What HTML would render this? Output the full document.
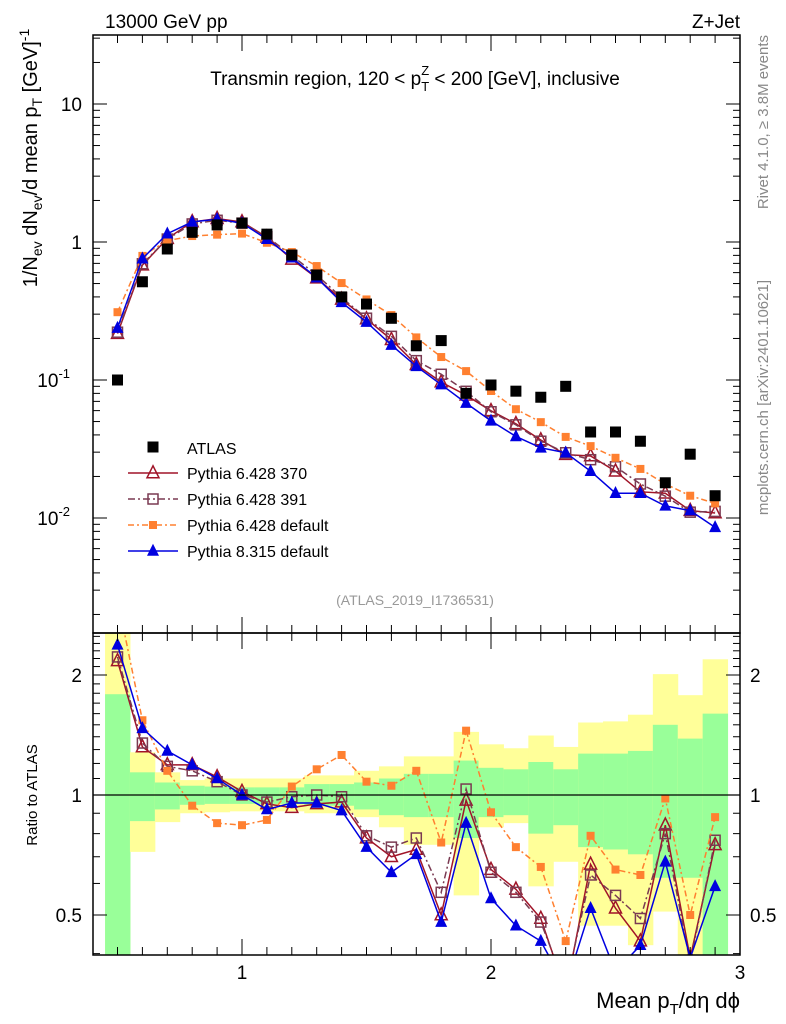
<!DOCTYPE html>
<html><head><meta charset="utf-8">
<style>
html,body{margin:0;padding:0;background:#fff;}
svg{display:block;font-family:"Liberation Sans",sans-serif;}
</style></head>
<body>
<svg id="chart" width="786" height="1024" viewBox="0 0 786 1024" xmlns="http://www.w3.org/2000/svg">
<defs>
<clipPath id="clipMain"><rect x="93" y="35" width="647" height="598"/></clipPath>
<clipPath id="clipRatio"><rect x="93" y="633" width="647" height="322"/></clipPath>
</defs>
<g id="bands" clip-path="url(#clipRatio)"></g>
<g id="marks"></g>
<g id="axes"></g>
<text x="105" y="28" font-size="19">13000 GeV pp</text>
<text x="740" y="28" font-size="19" text-anchor="end">Z+Jet</text>
<text x="415" y="85" font-size="19" text-anchor="middle">Transmin region, 120 &lt; p<tspan font-size="13" dy="6">T</tspan><tspan font-size="13" dx="-8" dy="-16">Z</tspan><tspan dy="10"> &lt; 200 [GeV], inclusive</tspan></text>
<text x="415" y="605" font-size="14" fill="#999" text-anchor="middle">(ATLAS_2019_I1736531)</text>
<text transform="translate(37,158) rotate(-90)" font-size="20" text-anchor="middle">1/N<tspan font-size="14" dy="5">ev</tspan><tspan dy="-5"> dN</tspan><tspan font-size="14" dy="5">ev</tspan><tspan dy="-5">/d mean p</tspan><tspan font-size="14" dy="5">T</tspan><tspan dy="-5"> [GeV]</tspan><tspan font-size="14" dy="-8">-1</tspan></text>
<text transform="translate(37,795) rotate(-90)" font-size="15" text-anchor="middle">Ratio to ATLAS</text>
<text transform="translate(768,35) rotate(-90)" font-size="15" fill="#888" text-anchor="end">Rivet 4.1.0, ≥ 3.8M events</text>
<text transform="translate(768,280) rotate(-90)" font-size="15" fill="#888" text-anchor="end">mcplots.cern.ch [arXiv:2401.10621]</text>
<text x="740" y="1008" font-size="22" text-anchor="end">Mean p<tspan font-size="15" dy="6">T</tspan><tspan dy="-6">/dη dϕ</tspan></text>
<g id="legend"></g>
</svg>
<script>
const xs=[0.5,0.6,0.7,0.8,0.9,1.0,1.1,1.2,1.3,1.4,1.5,1.6,1.7,1.8,1.9,2.0,2.1,2.2,2.3,2.4,2.5,2.6,2.7,2.8,2.9];
const atlas=[0.1,0.515,0.89,1.175,1.33,1.37,1.14,0.805,0.577,0.40,0.355,0.28,0.177,0.193,0.08,0.092,0.083,0.075,0.090,0.042,0.042,0.036,0.018,0.029,0.0145];
const ratioP370=[2.17,1.32,1.19,1.19,1.11,1.02,0.95,0.93,0.95,0.96,0.78,0.70,0.73,0.50,0.97,0.65,0.58,0.49,0.32,0.67,0.52,0.43,0.84,0.39,0.75];
const ratioP391=[2.22,1.35,1.18,1.15,1.08,1.0,0.96,0.99,1.0,0.99,0.79,0.74,0.78,0.57,1.035,0.64,0.57,0.48,0.33,0.63,0.56,0.49,0.80,0.38,0.77];
const ratioP6def=[3.1,1.54,1.15,0.94,0.85,0.84,0.866,1.05,1.16,1.26,1.08,1.055,1.15,0.76,1.45,0.905,0.74,0.66,0.43,0.79,0.65,0.63,0.98,0.50,0.88];
const ratioP8=[2.38,1.47,1.29,1.19,1.10,1.0,0.92,0.955,0.955,0.914,0.74,0.64,0.71,0.48,0.85,0.55,0.47,0.43,0.33,0.52,0.36,0.42,0.68,0.39,0.59];
const greenUp=[1.79,1.14,1.075,1.055,1.05,1.045,1.045,1.045,1.065,1.065,1.075,1.10,1.13,1.13,1.22,1.17,1.16,1.21,1.16,1.27,1.27,1.29,1.50,1.385,1.60];
const greenLo=[0.39,0.86,0.92,0.945,0.95,0.95,0.95,0.95,0.94,0.94,0.92,0.89,0.88,0.88,0.78,0.88,0.89,0.80,0.84,0.74,0.73,0.71,0.62,0.62,0.39];
const yellowUp=[2.6,1.28,1.14,1.09,1.10,1.10,1.10,1.10,1.12,1.12,1.15,1.18,1.25,1.25,1.44,1.34,1.31,1.41,1.32,1.52,1.53,1.59,2.01,1.78,2.19];
const yellowLo=[0.39,0.72,0.855,0.90,0.905,0.91,0.91,0.91,0.90,0.90,0.88,0.83,0.75,0.75,0.56,0.83,0.85,0.59,0.68,0.47,0.47,0.42,0.51,0.39,0.39];
const xTicks=[1,2,3];
const binHalf=0.05;

const NS="http://www.w3.org/2000/svg";
const svg=document.getElementById('chart');
const L=93,R=740,MT=35,MB=633,RB=955;
const X=v=>242+(v-1)*249;
const YM=v=>242-138*Math.log10(v);
const YR=v=>795-120*Math.log2(v);
function mk(tag,attrs,parent){const e=document.createElementNS(NS,tag);for(const k in attrs)e.setAttribute(k,attrs[k]);(parent||svg).appendChild(e);return e;}

const bands=document.getElementById('bands');
xs.forEach((x,i)=>{
 const r1=mk('rect',{x:X(x-binHalf),y:YR(yellowUp[i]),width:X(x+binHalf)-X(x-binHalf)+0.5,height:YR(yellowLo[i])-YR(yellowUp[i]),fill:'#ffff99'},bands);
 
 
 const r2=mk('rect',{x:X(x-binHalf),y:YR(greenUp[i]),width:X(x+binHalf)-X(x-binHalf)+0.5,height:YR(greenLo[i])-YR(greenUp[i]),fill:'#99ff99'},bands);
 
 
});
const one=mk('line',{x1:L,x2:R,y1:YR(1),y2:YR(1),stroke:'#000','stroke-width':1.2});



function marker(type,color,cx,cy,g,size){
 let e;
 if(type==='sq'){e=mk('rect',{x:cx-size/2,y:cy-size/2,width:size,height:size,fill:color},g);}
 else if(type==='osq'){e=mk('rect',{x:cx-size/2,y:cy-size/2,width:size,height:size,fill:'none',stroke:color,'stroke-width':1.5},g);}
 else if(type==='tri'){e=mk('polygon',{points:`${cx},${cy-size*0.6} ${cx-size/2},${cy+size*0.4} ${cx+size/2},${cy+size*0.4}`,fill:color},g);}
 else {e=mk('polygon',{points:`${cx},${cy-size*0.6} ${cx-size/2},${cy+size*0.4} ${cx+size/2},${cy+size*0.4}`,fill:'none',stroke:color,'stroke-width':1.5},g);}
 return e;
}
const series=[
 {name:'p6-370',ratio:ratioP370,color:'#a01428',type:'otri',dash:'',size:12,label:'Pythia 6.428 370'},
 {name:'p6-391',ratio:ratioP391,color:'#7a3a52',type:'osq',dash:'7,3,2,3',size:10,label:'Pythia 6.428 391'},
 {name:'p6-default',ratio:ratioP6def,color:'#ff8030',type:'sq',dash:'6,3,2,3',size:8,label:'Pythia 6.428 default'},
 {name:'p8-default',ratio:ratioP8,color:'#0000e0',type:'tri',dash:'',size:12,label:'Pythia 8.315 default'}
];
const marks=document.getElementById('marks');
series.forEach(s=>{
 const gm=mk('g',{'clip-path':'url(#clipMain)'},marks);
 
 
 const gr=mk('g',{'clip-path':'url(#clipRatio)'},marks);
 
 
 const pm=xs.map((x,i)=>X(x)+','+YM(s.ratio[i]*atlas[i])).join(' ');
 const pr=xs.map((x,i)=>X(x)+','+YR(s.ratio[i])).join(' ');
 mk('polyline',{points:pm,fill:'none',stroke:s.color,'stroke-width':1.5,'stroke-dasharray':s.dash},gm);
 mk('polyline',{points:pr,fill:'none',stroke:s.color,'stroke-width':1.5,'stroke-dasharray':s.dash},gr);
 xs.forEach((x,i)=>{
  const a=marker(s.type,s.color,X(x),YM(s.ratio[i]*atlas[i]),gm,s.size);
  
  
  const b=marker(s.type,s.color,X(x),YR(s.ratio[i]),gr,s.size);
  
  
 });
});
const ga=mk('g',{'clip-path':'url(#clipMain)'},marks);


xs.forEach((x,i)=>{
 const p=marker('sq','#000',X(x),YM(atlas[i]),ga,11);
 
 
});

const ax=document.getElementById('axes');


mk('rect',{x:L,y:MT,width:R-L,height:MB-MT,fill:'none',stroke:'#000','stroke-width':1.5},ax);
mk('rect',{x:L,y:MB,width:R-L,height:RB-MB,fill:'none',stroke:'#000','stroke-width':1.5},ax);
for(let d=-3;d<=1;d++){for(let m=1;m<10;m++){const v=m*Math.pow(10,d);const y=YM(v);if(y<MT||y>MB)continue;const len=m===1?14:7;
 mk('line',{x1:L,x2:L+len,y1:y,y2:y,stroke:'#000'},ax);mk('line',{x1:R,x2:R-len,y1:y,y2:y,stroke:'#000'},ax);}}
const ytl=[[10,'10',''],[1,'1',''],[0.1,'10','-1'],[0.01,'10','-2']];
ytl.forEach(t=>{const e=mk('text',{x:t[2]?70:82,y:YM(t[0])+7,'font-size':19,'text-anchor':'end'},ax);e.textContent=t[1];
 
 
 if(t[2]){const s=mk('tspan',{'font-size':13,dy:-9},e);s.textContent=t[2];}});
for(let v=0.4;v<=2.55;v+=0.1){const y=YR(v);if(y<MB||y>RB)continue;const maj=Math.abs(v-1)<1e-6||Math.abs(v-2)<1e-6||Math.abs(v-0.5)<1e-6;const len=maj?14:7;
 mk('line',{x1:L,x2:L+len,y1:y,y2:y,stroke:'#000'},ax);mk('line',{x1:R,x2:R-len,y1:y,y2:y,stroke:'#000'},ax);}
[[2,'2'],[1,'1'],[0.5,'0.5']].forEach(t=>{
 const a=mk('text',{x:82,y:YR(t[0])+7,'font-size':19,'text-anchor':'end'},ax);a.textContent=t[1];
 
 
 const b=mk('text',{x:750,y:YR(t[0])+7,'font-size':19},ax);b.textContent=t[1];
 
 });
for(let v=0.4;v<=3.001;v+=0.1){const x=X(v);if(x<L||x>R)continue;const maj=Math.abs(v-Math.round(v))<1e-6;const len=maj?16:8;
 [[MB,1],[MT,1],[RB,-1],[MB,-1]].forEach(p=>mk('line',{x1:x,x2:x,y1:p[0],y2:p[0]+p[1]*len,stroke:'#000'},ax));}
xTicks.forEach(v=>{const e=mk('text',{x:X(v),y:979,'font-size':19,'text-anchor':'middle'},ax);e.textContent=v;
 
 });

const lg=document.getElementById('legend');
const le0=mk('g',{},lg);


marker('sq','#000',153,447,le0,11);
mk('text',{x:187,y:454,'font-size':16},le0).textContent='ATLAS';
series.forEach((s,i)=>{const y=473+26*i;const g=mk('g',{},lg);
 
 
 mk('line',{x1:128,x2:178,y1:y,y2:y,stroke:s.color,'stroke-width':1.5,'stroke-dasharray':s.dash},g);
 marker(s.type,s.color,153,y,g,s.size);
 mk('text',{x:187,y:y+6,'font-size':16},g).textContent=s.label;});
</script>
</body></html>
